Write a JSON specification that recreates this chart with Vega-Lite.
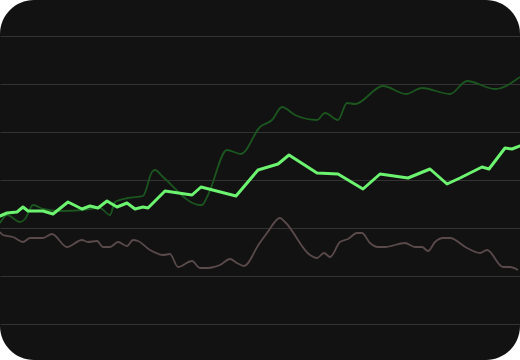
{
  "$schema": "https://vega.github.io/schema/vega-lite/v6.json",
  "width": 520,
  "height": 360,
  "autosize": {"type": "fit", "contains": "padding"},
  "padding": 0,
  "background": "#ffffff",
  "config": {"view": {"fill": "#121212", "cornerRadius": 34, "stroke": null}},
  "datasets": {
    "bright": [
      {"x":0,"v":144},{"x":7,"v":147},{"x":17,"v":148},{"x":23,"v":153},{"x":28,"v":149},{"x":43,"v":149},{"x":53,"v":146},{"x":68,"v":158},{"x":82,"v":151},{"x":90,"v":154},{"x":98,"v":152},{"x":107,"v":159},{"x":117,"v":153},{"x":127,"v":157},{"x":135,"v":151},{"x":143,"v":153},{"x":148,"v":152},{"x":165,"v":169},{"x":192,"v":165},{"x":201,"v":173},{"x":236,"v":164},{"x":258,"v":190},{"x":278,"v":196},{"x":289,"v":205},{"x":317,"v":187},{"x":338,"v":186},{"x":363,"v":171},{"x":380,"v":186},{"x":408,"v":182},{"x":430,"v":191},{"x":447,"v":176},{"x":460,"v":182},{"x":482,"v":193},{"x":489,"v":191},{"x":505,"v":212},{"x":512,"v":211},{"x":520,"v":214}
    ],
    "dark": [
      {"x":0,"v":137},{"x":7,"v":145},{"x":20,"v":138},{"x":25,"v":141},{"x":33,"v":155},{"x":43,"v":151},{"x":60,"v":149},{"x":83,"v":150},{"x":100,"v":152},{"x":110,"v":145},{"x":115,"v":158},{"x":128,"v":162},{"x":143,"v":164},{"x":152,"v":188},{"x":155,"v":190},{"x":163,"v":183},{"x":200,"v":155},{"x":202,"v":155},{"x":208,"v":165},{"x":227,"v":210},{"x":241,"v":206},{"x":260,"v":233},{"x":272,"v":240},{"x":282,"v":253},{"x":295,"v":245},{"x":317,"v":240},{"x":325,"v":247},{"x":338,"v":240},{"x":347,"v":257},{"x":355,"v":256},{"x":383,"v":274},{"x":406,"v":266},{"x":422,"v":272},{"x":450,"v":266},{"x":467,"v":279},{"x":495,"v":271},{"x":520,"v":283}
    ],
    "gray": [
      {"x":0,"v":128},{"x":3,"v":125},{"x":13,"v":123},{"x":23,"v":118},{"x":30,"v":122},{"x":43,"v":122},{"x":52,"v":126},{"x":67,"v":113},{"x":82,"v":120},{"x":88,"v":118},{"x":97,"v":119},{"x":103,"v":113},{"x":110,"v":113},{"x":118,"v":118},{"x":127,"v":114},{"x":133,"v":120},{"x":138,"v":119},{"x":150,"v":110},{"x":163,"v":105},{"x":170,"v":106},{"x":178,"v":93},{"x":192,"v":99},{"x":200,"v":92},{"x":208,"v":92},{"x":220,"v":95},{"x":230,"v":101},{"x":237,"v":97},{"x":244,"v":94},{"x":259,"v":116},{"x":267,"v":127},{"x":280,"v":142},{"x":285,"v":138},{"x":310,"v":105},{"x":317,"v":102},{"x":324,"v":107},{"x":330,"v":103},{"x":340,"v":118},{"x":348,"v":121},{"x":357,"v":127},{"x":362,"v":127},{"x":370,"v":117},{"x":378,"v":113},{"x":385,"v":113},{"x":405,"v":117},{"x":415,"v":113},{"x":422,"v":113},{"x":428,"v":109},{"x":435,"v":118},{"x":443,"v":122},{"x":450,"v":122},{"x":467,"v":112},{"x":480,"v":107},{"x":487,"v":110},{"x":503,"v":93},{"x":510,"v":93},{"x":518,"v":90}
    ]
  },
  "encoding": {
    "x": {"field": "x", "type": "quantitative", "scale": {"domain": [0, 520], "nice": false, "zero": false}, "axis": null},
    "y": {"field": "v", "type": "quantitative", "scale": {"domain": [0, 360], "nice": false},
      "axis": {"values": [36, 84, 132, 180, 228, 276, 324], "grid": true, "gridColor": "#333333", "gridWidth": 1.2, "domain": false, "ticks": false, "labels": false, "title": null}}
  },
  "layer": [
    {"data": {"name": "gray"}, "mark": {"type": "line", "color": "#5a4a4b", "strokeWidth": 1.8, "interpolate": "monotone", "clip": true}},
    {"data": {"name": "dark"}, "mark": {"type": "line", "color": "#1b561f", "strokeWidth": 1.8, "interpolate": "monotone", "clip": true}},
    {"data": {"name": "bright"}, "mark": {"type": "line", "color": "#6cf470", "strokeWidth": 3, "strokeJoin": "round", "strokeCap": "round", "clip": true}}
  ]
}
